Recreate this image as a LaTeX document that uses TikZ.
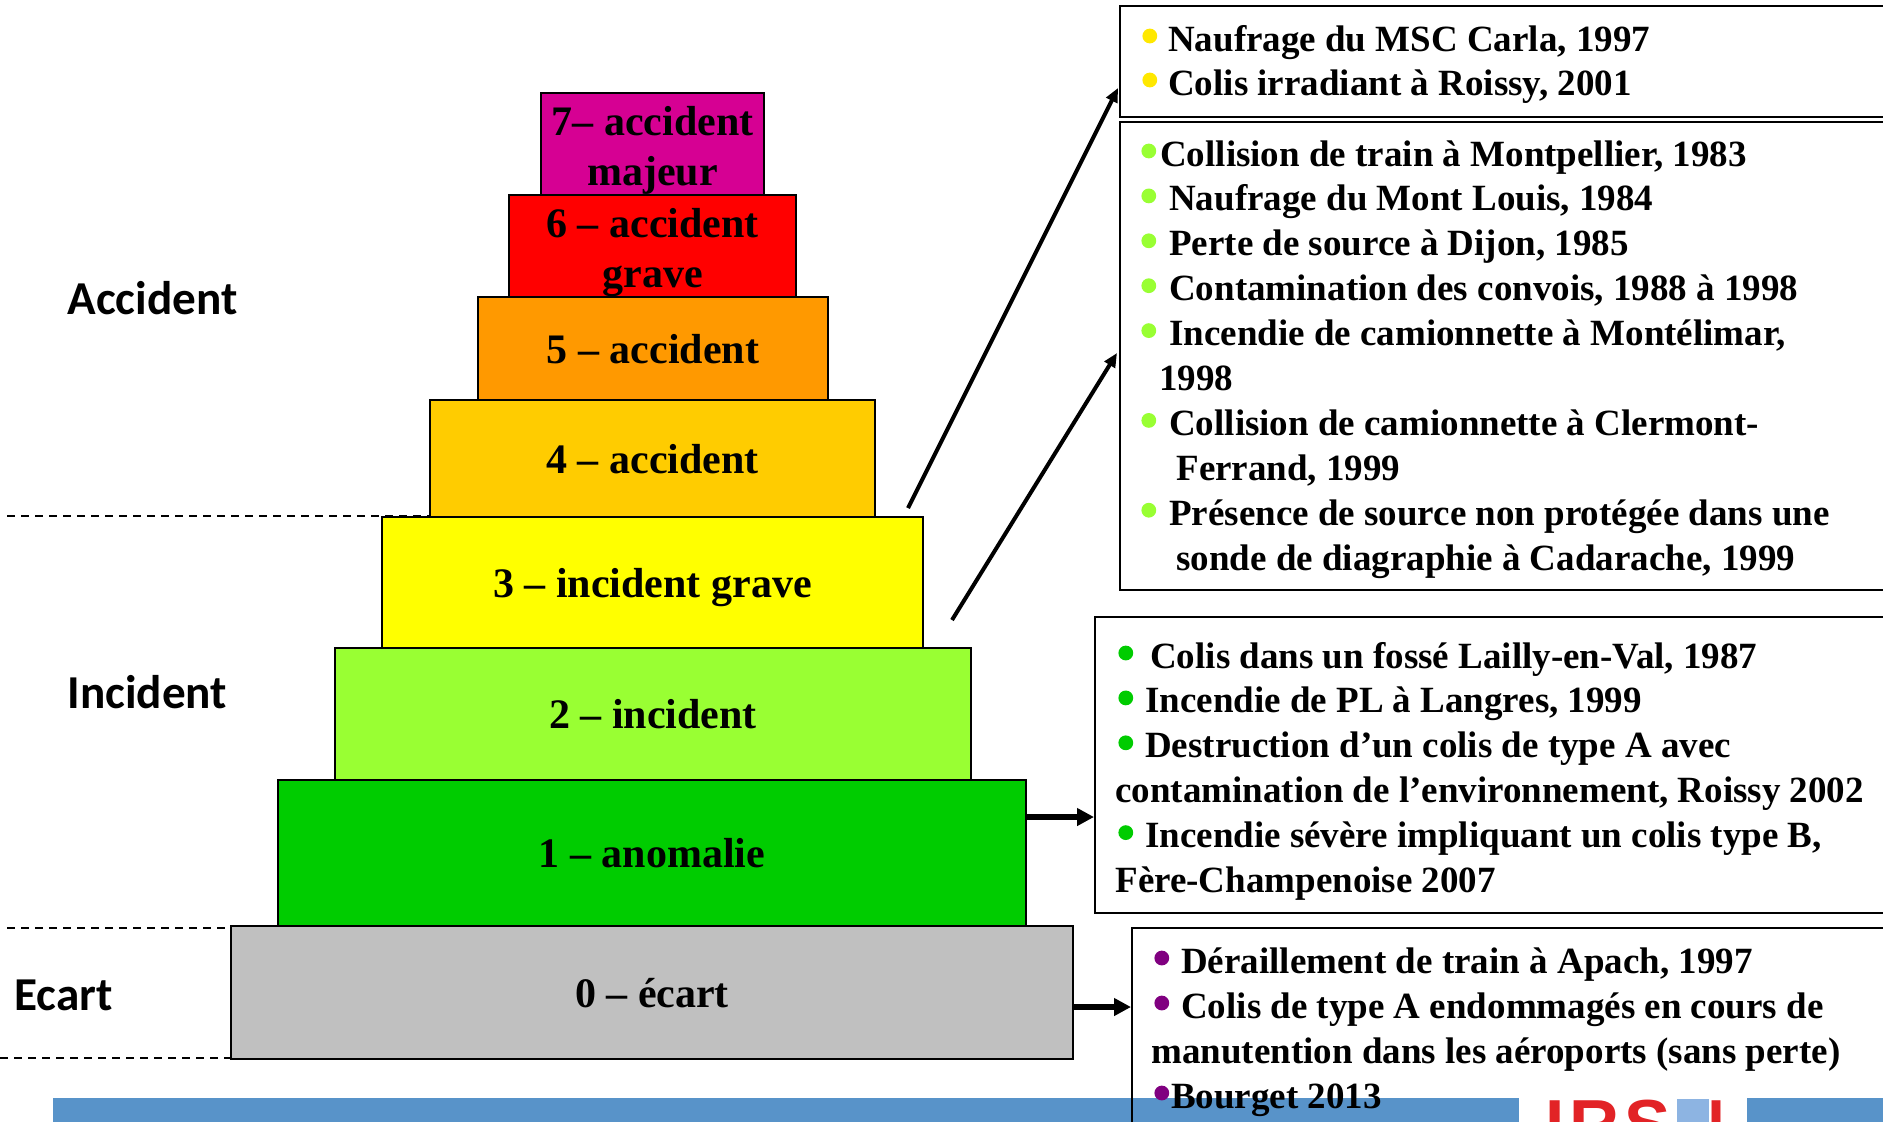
\documentclass[tikz,border=0pt]{standalone}
\usepackage{fontspec}
\setmainfont{Liberation Serif}
\newfontfamily\bandfont{Carlito}
\newfontfamily\logofont[LetterSpace=7]{Liberation Sans}
\usetikzlibrary{%
  arrows.meta,%
  calc%
}

\definecolor{lvzero}{RGB}{192,192,192}
\definecolor{lvone}{RGB}{0,204,0}
\definecolor{lvtwo}{RGB}{153,255,51}
\definecolor{lvthree}{RGB}{255,255,0}
\definecolor{lvfour}{RGB}{255,204,0}
\definecolor{lvfive}{RGB}{255,153,0}
\definecolor{lvsix}{RGB}{255,0,0}
\definecolor{lvseven}{RGB}{214,0,147}
\definecolor{dotyel}{RGB}{255,232,0}
\definecolor{dotlime}{RGB}{153,255,51}
\definecolor{dotgreen}{RGB}{0,204,0}
\definecolor{dotpurple}{RGB}{128,0,128}
\definecolor{barblue}{RGB}{88,147,201}
\definecolor{irsnred}{RGB}{226,35,38}
\definecolor{irsnblue}{RGB}{141,180,226}

\newcommand{\evdot}[1]{\tikz[baseline=0pt]\fill[#1] (3.7pt,7.5pt) circle[radius=3.7pt];}

\tikzset{
  tier/.style={draw=black,line width=0.8pt,inner sep=0pt,align=center,
    text depth=0pt,font=\fontsize{21}{25}\selectfont\bfseries},
  evframe/.style={draw=black,line width=0.8pt,anchor=north west,inner sep=0pt},
  evtext/.style={anchor=base west,inner sep=0pt,
    font=\fontsize{18.5}{22}\selectfont\bfseries},
  bandlabel/.style={anchor=base west,inner sep=0pt,
    font=\bandfont\fontsize{23.6}{28}\selectfont\bfseries},
  bandline/.style={line width=1pt,dash pattern=on 4pt off 3pt},
  linkup/.style={line width=2pt,-{Triangle[length=7pt,width=6pt]}},
  linkright/.style={line width=3pt,-{Triangle[length=8.5pt,width=8.5pt]}}
}

\begin{document}
\begin{tikzpicture}[x=0.5pt,y=-0.5pt]
  \useasboundingbox[fill=white] (0,0) rectangle (1883,1121);

  % bottom band and logo
  \fill[barblue] (53,1098) rectangle (1519,1130);
  \fill[barblue] (1747,1098) rectangle (1890,1130);
  \node[anchor=base west,inner sep=0pt,text=irsnred,
    font=\logofont\bfseries\fontsize{34.7}{40}\selectfont] (logo) at (1545,1148) {IRSN};
  \fill[irsnblue] (1677,1099) rectangle (1709,1125);

  % separators between the bands
  \draw[bandline] (7,516) -- (473,516);
  \draw[bandline] (7,928) -- (344,928);
  \draw[bandline] (0,1058) -- (337,1058);

  \node[bandlabel] (accident) at (67,314) {Accident};
  \node[bandlabel] (incident) at (67,708) {Incident};
  \node[bandlabel] (ecart) at (14,1010) {Ecart};

  % the scale
  \node[tier,fill=lvseven,minimum width=111.5pt,minimum height=51pt] (lvl7)
    at (652.5,144) {\rule{0pt}{16pt}7– accident\\majeur};
  \node[tier,fill=lvsix,minimum width=143.5pt,minimum height=51pt] (lvl6)
    at (652.5,246) {\rule{0pt}{16pt}6 – accident\\grave};
  \node[tier,fill=lvfive,minimum width=175pt,minimum height=51.5pt] (lvl5)
    at (653,348.5) {5 – accident};
  \node[tier,fill=lvfour,minimum width=222.5pt,minimum height=58.5pt] (lvl4)
    at (652.5,458.5) {4 – accident};
  \node[tier,fill=lvthree,minimum width=270.5pt,minimum height=65.5pt] (lvl3)
    at (652.5,582.5) {3 – incident grave};
  \node[tier,fill=lvtwo,minimum width=318pt,minimum height=66pt] (lvl2)
    at (653,714) {2 – incident};
  \node[tier,fill=lvone,minimum width=374pt,minimum height=73pt] (lvl1)
    at (652,853) {1 – anomalie};
  \node[tier,fill=lvzero,minimum width=421pt,minimum height=66.5pt] (lvl0)
    at (652,992.5) {0 – écart};

  % event lists
  \node[evframe,minimum width=390.5pt,minimum height=55.5pt] (frA) at (1119,5) {};
  \node[evframe,minimum width=390.5pt,minimum height=234pt] (frB) at (1119,121) {};
  \node[evframe,minimum width=403pt,minimum height=148pt] (frC) at (1094,616) {};
  \node[evframe,minimum width=384.5pt,minimum height=101.5pt] (frD) at (1131,927) {};

  \foreach \txt [count=\i] in {%
    {\evdot{dotyel}\hspace{5.5pt}Naufrage du MSC Carla, 1997},
    {\evdot{dotyel}\hspace{5.5pt}Colis irradiant à Roissy, 2001}}
    \node[evtext] (evA\i) at (1142,{51+44*(\i-1)}) {\txt};

  \foreach \txt [count=\i] in {%
    {\evdot{dotlime}\hspace{2pt}Collision de train à Montpellier, 1983},
    {\evdot{dotlime}\hspace{6.5pt}Naufrage du Mont Louis, 1984},
    {\evdot{dotlime}\hspace{6.5pt}Perte de source à Dijon, 1985},
    {\evdot{dotlime}\hspace{6.5pt}Contamination des convois, 1988 à 1998},
    {\evdot{dotlime}\hspace{6.5pt}Incendie de camionnette à Montélimar,},
    {\hspace*{9pt}1998},
    {\evdot{dotlime}\hspace{6.5pt}Collision de camionnette à Clermont-},
    {\hspace*{17.5pt}Ferrand, 1999},
    {\evdot{dotlime}\hspace{6.5pt}Présence de source non protégée dans une},
    {\hspace*{17.5pt}sonde de diagraphie à Cadarache, 1999}}
    \node[evtext] (evB\i) at (1141,{166+44.9*(\i-1)}) {\txt};

  \foreach \txt [count=\i] in {%
    {\hspace*{1.5pt}\evdot{dotgreen}\hspace{8.5pt}Colis dans un fossé Lailly-en-Val, 1987},
    {\hspace*{1.5pt}\evdot{dotgreen}\hspace{6pt}Incendie de PL à Langres, 1999},
    {\hspace*{1.5pt}\evdot{dotgreen}\hspace{6pt}Destruction d’un colis de type A avec},
    {contamination de l’environnement, Roissy 2002},
    {\hspace*{1.5pt}\evdot{dotgreen}\hspace{6pt}Incendie sévère impliquant un colis type B,},
    {Fère-Champenoise 2007}}
    \node[evtext] (evC\i) at (1115,{668+44.9*(\i-1)}) {\txt};

  \foreach \txt [count=\i] in {%
    {\hspace*{1.5pt}\evdot{dotpurple}\hspace{6pt}Déraillement de train à Apach, 1997},
    {\hspace*{1.5pt}\evdot{dotpurple}\hspace{6pt}Colis de type A endommagés en cours de},
    {manutention dans les aéroports (sans perte)},
    {\hspace*{1.5pt}\evdot{dotpurple}\hspace{1pt}Bourget 2013}}
    \node[evtext] (evD\i) at (1151,{973+45*(\i-1)}) {\txt};

  % links from the scale to the lists
  \coordinate (tailA) at (908,508);
  \coordinate (tipA) at (1118,88);
  \coordinate (tailB) at (952,620);
  \coordinate (tipB) at (1117,353);
  \coordinate (yC) at (0,817);
  \coordinate (yD) at (0,1007);
  \draw[linkup] (tailA) -- (tipA);
  \draw[linkup] (tailB) -- (tipB);
  \draw[linkright] (lvl1.east |- yC) -- (frC.west |- yC);
  \draw[linkright] (lvl0.east |- yD) -- (frD.west |- yD);
\end{tikzpicture}
\end{document}
